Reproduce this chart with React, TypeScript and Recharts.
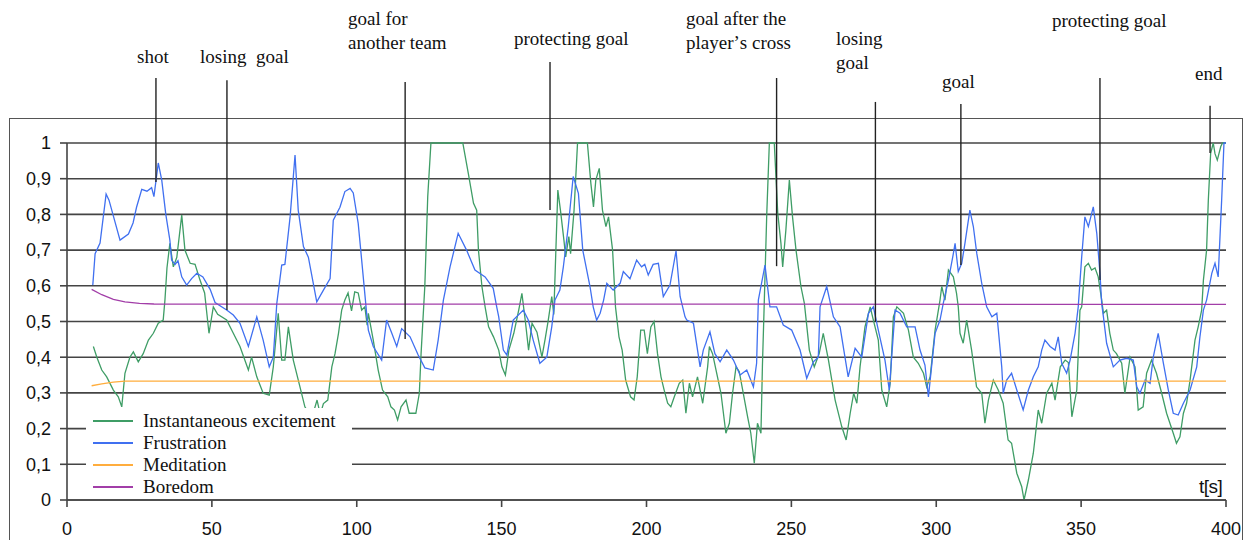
import React from 'react';
import { LineChart, Line, XAxis, YAxis, CartesianGrid, ReferenceLine } from 'recharts';

// [t in seconds, value]
const excitement: [number, number][] = [
  [9.1, 0.43], [10.3, 0.40], [12.0, 0.364], [13.7, 0.345], [16.0, 0.308], [17.7, 0.289], [18.9, 0.261],
  [20.0, 0.355], [21.7, 0.40], [22.9, 0.415], [24.6, 0.387], [26.3, 0.41], [28.1, 0.448], [29.8, 0.467],
  [31.5, 0.495], [33.2, 0.504], [33.8, 0.56], [34.5, 0.65], [35.5, 0.719], [36.7, 0.653], [37.9, 0.68],
  [39.6, 0.798], [40.7, 0.70], [42.5, 0.663], [44.2, 0.66], [45.9, 0.616], [47.5, 0.58], [49.0, 0.467],
  [50.5, 0.541], [52.0, 0.52], [55.1, 0.504], [57.4, 0.467], [59.7, 0.43], [62.6, 0.364], [63.7, 0.40],
  [65.5, 0.345], [67.7, 0.299], [69.8, 0.294], [71.2, 0.373], [72.9, 0.523], [74.1, 0.392], [75.2, 0.392],
  [76.4, 0.485], [78.1, 0.392], [80.4, 0.317], [82.1, 0.261], [84.5, 0.23], [86.3, 0.28], [87.4, 0.24],
  [88.5, 0.27], [90.0, 0.28], [91.4, 0.373], [92.5, 0.41], [93.7, 0.467], [94.8, 0.532], [95.9, 0.56],
  [97.0, 0.58], [98.2, 0.53], [99.3, 0.583], [100.5, 0.58], [101.7, 0.532], [102.8, 0.541], [103.6, 0.49],
  [104.0, 0.523], [105.7, 0.448], [107.4, 0.364], [108.9, 0.308], [110.7, 0.289], [111.8, 0.261],
  [113.0, 0.252], [114.1, 0.224], [115.3, 0.261], [117.0, 0.28], [118.1, 0.243], [120.4, 0.243],
  [121.6, 0.299], [122.2, 0.41], [123.5, 0.6], [124.5, 0.85], [125.6, 1.0], [136.6, 1.0], [138.5, 0.915],
  [140.3, 0.831], [141.4, 0.812], [142.0, 0.70], [143.2, 0.598], [144.3, 0.541], [145.5, 0.485],
  [147.2, 0.457], [149.0, 0.42], [150.1, 0.373], [151.3, 0.35], [152.5, 0.42], [154.2, 0.467],
  [155.9, 0.532], [157.0, 0.579], [158.2, 0.50], [159.3, 0.42], [160.5, 0.495], [162.2, 0.47],
  [163.9, 0.40], [165.0, 0.45], [166.1, 0.504], [167.3, 0.57], [168.0, 0.52], [169.4, 0.868],
  [170.3, 0.812], [171.5, 0.728], [172.1, 0.681], [173.2, 0.738], [173.8, 0.69], [175.0, 0.812],
  [176.2, 1.0], [179.6, 1.0], [180.8, 0.887], [181.7, 0.821], [182.5, 0.896], [183.7, 0.929],
  [184.8, 0.812], [186.0, 0.766], [186.9, 0.793], [188.3, 0.70], [189.3, 0.541], [190.5, 0.457],
  [191.6, 0.42], [192.8, 0.336], [194.5, 0.289], [195.7, 0.28], [196.8, 0.345], [198.0, 0.476],
  [199.2, 0.476], [200.3, 0.41], [201.5, 0.485], [202.6, 0.50], [203.8, 0.41], [205.0, 0.345],
  [206.1, 0.308], [207.3, 0.271], [208.4, 0.261], [209.6, 0.289], [211.3, 0.327], [212.5, 0.336],
  [213.6, 0.243], [214.8, 0.327], [215.9, 0.289], [217.6, 0.345], [219.4, 0.271], [221.1, 0.373],
  [221.7, 0.43], [222.8, 0.41], [224.0, 0.364], [225.7, 0.299], [227.4, 0.187], [228.6, 0.215],
  [229.7, 0.299], [230.9, 0.373], [232.0, 0.36], [233.2, 0.308], [234.9, 0.233], [236.0, 0.187],
  [237.2, 0.103], [238.3, 0.215], [239.5, 0.187], [240.0, 0.373], [240.6, 0.541], [241.5, 0.8],
  [242.4, 1.0], [244.1, 1.0], [245.3, 0.803], [246.4, 0.719], [247.0, 0.653], [248.1, 0.756],
  [249.3, 0.896], [250.4, 0.793], [251.6, 0.70], [253.3, 0.598], [254.5, 0.55], [256.2, 0.42],
  [257.9, 0.373], [259.6, 0.41], [261.0, 0.467], [262.8, 0.392], [265.1, 0.28], [267.4, 0.205],
  [268.9, 0.168], [270.3, 0.243], [271.5, 0.299], [272.6, 0.271], [273.7, 0.373], [275.4, 0.485],
  [277.2, 0.541], [278.3, 0.504], [280.0, 0.448], [281.2, 0.308], [282.9, 0.261], [284.1, 0.327],
  [285.2, 0.513], [286.4, 0.541], [288.7, 0.523], [290.4, 0.476], [292.1, 0.40], [293.8, 0.383],
  [295.6, 0.355], [296.7, 0.317], [297.9, 0.345], [299.6, 0.476], [301.3, 0.56], [301.9, 0.598],
  [303.0, 0.56], [304.2, 0.644], [305.9, 0.625], [307.0, 0.579], [307.6, 0.541], [308.2, 0.467],
  [309.3, 0.439], [310.5, 0.504], [312.2, 0.42], [313.9, 0.317], [315.7, 0.299], [316.8, 0.215],
  [318.0, 0.28], [319.7, 0.336], [321.4, 0.308], [323.1, 0.271], [324.8, 0.168], [326.0, 0.159],
  [327.8, 0.075], [329.5, 0.037], [330.3, 0.0], [331.8, 0.056], [333.5, 0.131], [335.2, 0.252],
  [336.4, 0.215], [338.1, 0.299], [339.9, 0.327], [341.0, 0.28], [342.8, 0.373], [344.5, 0.392],
  [345.6, 0.385], [346.8, 0.233], [348.5, 0.308], [349.6, 0.532], [350.2, 0.541], [351.3, 0.653],
  [352.5, 0.663], [353.6, 0.644], [354.8, 0.65], [355.9, 0.625], [357.1, 0.56], [357.7, 0.523],
  [358.8, 0.532], [359.9, 0.467], [361.1, 0.42], [362.2, 0.41], [364.0, 0.383], [365.1, 0.299],
  [366.9, 0.40], [368.6, 0.373], [369.7, 0.252], [371.4, 0.261], [372.6, 0.355], [374.3, 0.392],
  [376.0, 0.355], [377.8, 0.299], [379.5, 0.243], [381.8, 0.187], [382.9, 0.159], [384.1, 0.177],
  [385.3, 0.243], [386.4, 0.271], [387.6, 0.336], [389.3, 0.448], [390.4, 0.485], [391.6, 0.532],
  [392.2, 0.616], [393.3, 0.70], [393.9, 0.84], [394.7, 0.971], [395.6, 1.0], [396.2, 0.97],
  [397.0, 0.952], [398.2, 0.99], [398.8, 1.0], [400, 1.0],
];

const frustration: [number, number][] = [
  [8.9, 0.602], [9.7, 0.69], [11.4, 0.72], [13.5, 0.857], [14.5, 0.84], [18.3, 0.728], [21.2, 0.745],
  [22.8, 0.776], [24.0, 0.82], [25.8, 0.87], [27.6, 0.865], [29.2, 0.875], [30.0, 0.85], [31.5, 0.944],
  [32.7, 0.896], [34.1, 0.80], [35.5, 0.728], [36.1, 0.672], [37.3, 0.66], [38.3, 0.67], [39.6, 0.625],
  [41.3, 0.602], [43.0, 0.62], [44.8, 0.635], [46.9, 0.625], [49.4, 0.59], [51.1, 0.553], [55.1, 0.532],
  [57.4, 0.518], [59.7, 0.495], [62.6, 0.43], [65.5, 0.513], [67.7, 0.448], [69.8, 0.373], [71.2, 0.40],
  [72.4, 0.55], [74.1, 0.658], [75.2, 0.66], [77.0, 0.793], [78.7, 0.966], [79.8, 0.812], [81.6, 0.71],
  [83.3, 0.68], [86.2, 0.555], [88.5, 0.588], [90.8, 0.62], [91.9, 0.784], [94.2, 0.82], [95.9, 0.864],
  [97.7, 0.873], [98.8, 0.86], [100.5, 0.775], [101.7, 0.672], [103.4, 0.524], [104.0, 0.476],
  [105.7, 0.43], [108.6, 0.392], [110.3, 0.504], [112.1, 0.467], [113.8, 0.43], [115.5, 0.48],
  [118.4, 0.457], [121.2, 0.406], [123.5, 0.37], [126.4, 0.364], [128.1, 0.448], [129.9, 0.56],
  [132.2, 0.653], [135.0, 0.747], [137.9, 0.70], [140.8, 0.644], [144.3, 0.625], [147.1, 0.593],
  [148.3, 0.541], [149.0, 0.513], [150.6, 0.42], [151.8, 0.406], [154.0, 0.504], [157.5, 0.532],
  [159.2, 0.504], [160.9, 0.448], [163.2, 0.383], [165.6, 0.40], [167.3, 0.485], [168.4, 0.56],
  [170.1, 0.588], [171.3, 0.653], [173.0, 0.766], [174.7, 0.906], [176.5, 0.859], [178.0, 0.70],
  [180.5, 0.598], [181.6, 0.541], [182.8, 0.504], [184.0, 0.523], [185.2, 0.56], [186.3, 0.607],
  [188.5, 0.588], [190.9, 0.607], [192.0, 0.64], [194.3, 0.62], [196.6, 0.672], [198.3, 0.653],
  [199.4, 0.66], [200.6, 0.63], [202.3, 0.66], [204.1, 0.663], [205.8, 0.57], [208.1, 0.602],
  [210.2, 0.698], [211.6, 0.57], [213.3, 0.513], [213.9, 0.504], [216.2, 0.495], [218.5, 0.373],
  [219.6, 0.42], [221.9, 0.471], [223.6, 0.41], [225.4, 0.387], [227.7, 0.42], [230.0, 0.392],
  [232.3, 0.35], [234.6, 0.364], [236.9, 0.317], [238.0, 0.383], [238.6, 0.56], [240.9, 0.658],
  [242.6, 0.541], [244.9, 0.541], [247.2, 0.49], [250.1, 0.476], [253.0, 0.42], [255.3, 0.341],
  [257.6, 0.387], [259.3, 0.40], [259.9, 0.541], [262.2, 0.598], [264.5, 0.513], [266.8, 0.485],
  [269.6, 0.345], [272.0, 0.425], [274.3, 0.40], [276.6, 0.523], [278.3, 0.541], [280.0, 0.476],
  [282.3, 0.392], [283.8, 0.308], [285.8, 0.532], [287.5, 0.523], [289.8, 0.485], [292.7, 0.485],
  [294.4, 0.42], [296.1, 0.378], [297.3, 0.289], [299.6, 0.467], [301.3, 0.504], [302.4, 0.55],
  [304.2, 0.616], [305.9, 0.69], [306.5, 0.719], [307.6, 0.64], [308.8, 0.663], [309.9, 0.719],
  [311.6, 0.812], [312.8, 0.766], [314.0, 0.69], [315.7, 0.607], [317.4, 0.541], [319.2, 0.513],
  [320.9, 0.523], [322.6, 0.373], [323.1, 0.299], [324.3, 0.336], [326.0, 0.355], [327.8, 0.308],
  [330.0, 0.252], [331.8, 0.308], [333.5, 0.345], [335.2, 0.373], [336.4, 0.42], [337.5, 0.448],
  [339.3, 0.43], [341.0, 0.42], [342.1, 0.457], [343.3, 0.383], [345.0, 0.355], [346.2, 0.392],
  [347.9, 0.467], [349.0, 0.541], [350.2, 0.681], [351.3, 0.793], [352.5, 0.766], [354.2, 0.821],
  [355.4, 0.747], [356.5, 0.635], [357.1, 0.55], [357.7, 0.513], [358.8, 0.439], [361.1, 0.373],
  [363.4, 0.392], [365.7, 0.397], [368.0, 0.392], [369.2, 0.317], [370.3, 0.299], [372.1, 0.336],
  [373.8, 0.327], [374.9, 0.40], [376.6, 0.467], [378.4, 0.383], [380.1, 0.308], [381.8, 0.243],
  [383.5, 0.238], [385.3, 0.271], [387.6, 0.308], [389.9, 0.373], [391.0, 0.457], [392.2, 0.532],
  [393.3, 0.56], [395.1, 0.635], [396.2, 0.663], [397.3, 0.625], [398.5, 0.84], [399.3, 1.0], [400, 1.0],
];

const meditation: [number, number][] = [
  [8.5, 0.32], [12, 0.325], [16, 0.33], [20, 0.333], [400, 0.333],
];

const boredom: [number, number][] = [
  [8.5, 0.59], [12, 0.575], [16, 0.562], [20, 0.555], [25, 0.551], [30, 0.549], [400, 0.548],
];

const yTicks = [0, 0.1, 0.2, 0.3, 0.4, 0.5, 0.6, 0.7, 0.8, 0.9, 1];
const xTicks = [0, 50, 100, 150, 200, 250, 300, 350, 400];

// event markers: time, top and bottom of the vertical line (in value units)
const events = [
  { t: 30.7, top: 1.182, bottom: 0.891 },
  { t: 55.2, top: 1.176, bottom: 0.532 },
  { t: 116.7, top: 1.171, bottom: 0.451 },
  { t: 166.7, top: 1.227, bottom: 0.812 },
  { t: 244.9, top: 1.182, bottom: 0.655 },
  { t: 279.0, top: 1.115, bottom: 0.499 },
  { t: 308.5, top: 1.109, bottom: 0.658 },
  { t: 356.5, top: 1.182, bottom: 0.616 },
  { t: 394.5, top: 1.104, bottom: 0.972 },
];

const eventLabels = [
  { lines: ['shot'], left: 137, top: 45 },
  { lines: ['losing  goal'], left: 200, top: 45 },
  { lines: ['goal for', 'another team'], left: 348, top: 7 },
  { lines: ['protecting goal'], left: 514, top: 27 },
  { lines: ['goal after the', 'player\u02bcs cross'], left: 686, top: 7 },
  { lines: ['losing', 'goal'], left: 836, top: 27 },
  { lines: ['goal'], left: 942, top: 70 },
  { lines: ['protecting goal'], left: 1052, top: 9 },
  { lines: ['end'], left: 1195, top: 62 },
];

const series = [
  { name: 'Instantaneous excitement', color: '#3f9d66', data: excitement },
  { name: 'Frustration', color: '#4070f0', data: frustration },
  { name: 'Meditation', color: '#ffad3d', data: meditation },
  { name: 'Boredom', color: '#a23ea8', data: boredom },
];

const toPoints = (arr: [number, number][]) => arr.map(([t, v]) => ({ t, v }));

const fmtY = (v: number) => (v === 0 ? '0' : v === 1 ? '1' : v.toFixed(1).replace('.', ','));

const GRID = '#444';
const tickFont = { fontFamily: '"Liberation Sans", Arial, sans-serif', fontSize: 18, fill: '#111' };

export default function App() {
  return (
    <div style={{ position: 'absolute', left: 0, top: 0, width: 1245, height: 540, background: '#fff', overflow: 'hidden', fontFamily: '"Liberation Serif", "Times New Roman", serif' }}>
      <div style={{ position: 'absolute', left: 9, top: 118, width: 1232, height: 500, border: '1.5px solid #555' }} />

      <div style={{ position: 'absolute', left: 0, top: 0 }}>
        <LineChart width={1245} height={540} margin={{ top: 143, right: 19, bottom: 10, left: 0 }}>
          <CartesianGrid vertical={false} stroke={GRID} strokeWidth={1.6} />
          <XAxis
            type="number"
            dataKey="t"
            domain={[0, 400]}
            ticks={xTicks}
            allowDuplicatedCategory={false}
            height={30}
            stroke={GRID}
            strokeWidth={1.6}
            tickSize={7}
            tickMargin={15}
            tick={tickFont}
          />
          <YAxis
            type="number"
            domain={[0, 1]}
            ticks={yTicks}
            width={67}
            stroke={GRID}
            strokeWidth={1.6}
            tickSize={7}
            tickMargin={9}
            tick={tickFont}
            tickFormatter={fmtY}
          />
          {series.map(s => (
            <Line
              key={s.name}
              data={toPoints(s.data)}
              dataKey="v"
              type="linear"
              stroke={s.color}
              strokeWidth={1.3}
              dot={false}
              isAnimationActive={false}
            />
          ))}
          {events.map(e => (
            <ReferenceLine
              key={e.t}
              segment={[{ x: e.t, y: e.top }, { x: e.t, y: e.bottom }]}
              stroke="#222"
              strokeWidth={1.4}
              ifOverflow="visible"
            />
          ))}
        </LineChart>
      </div>

      <div style={{ position: 'absolute', left: 86, top: 408, width: 266, height: 88, background: '#fff' }}>
        {series.map((s, i) => (
          <div key={s.name} style={{ position: 'absolute', left: 0, top: 2 + i * 22, height: 22, display: 'flex', alignItems: 'center' }}>
            <div style={{ width: 40, height: 1.5, background: s.color, marginLeft: 7, marginRight: 10 }} />
            <span style={{ fontSize: 19, color: '#111', whiteSpace: 'nowrap' }}>{s.name}</span>
          </div>
        ))}
      </div>

      {eventLabels.map(l => (
        <div key={l.left} style={{ position: 'absolute', left: l.left, top: l.top, fontSize: 19, lineHeight: '24px', color: '#111', whiteSpace: 'pre' }}>
          {l.lines.map(line => <div key={line}>{line}</div>)}
        </div>
      ))}

      <div style={{ position: 'absolute', left: 1199, top: 476, fontFamily: '"Liberation Sans", Arial, sans-serif', fontSize: 19, letterSpacing: -0.5, color: '#111' }}>
        t[s]
      </div>
    </div>
  );
}
